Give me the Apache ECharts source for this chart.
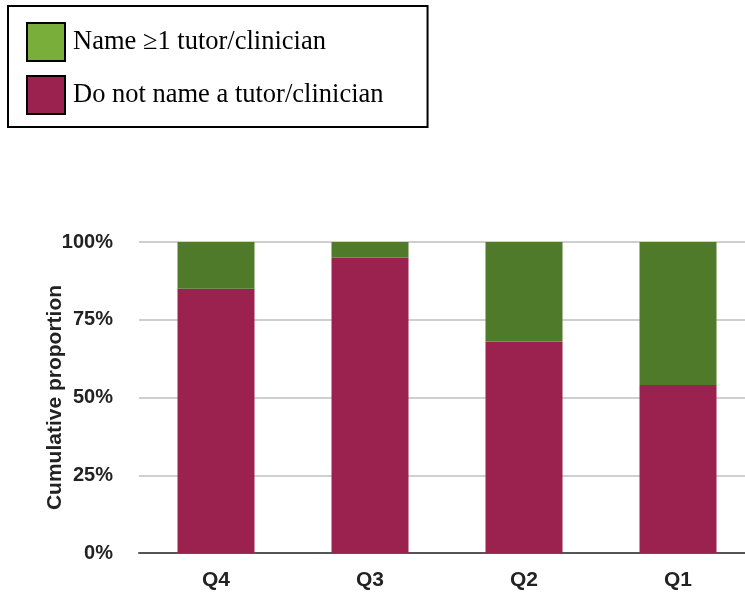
<!DOCTYPE html>
<html>
<head>
<meta charset="utf-8">
<script src="https://cdn.jsdelivr.net/npm/echarts@6/dist/echarts.min.js"></script>
<style>html,body{margin:0;padding:0;background:#fff;}#c{width:745px;height:592px;}</style>
</head>
<body>
<div id="c"></div>
<script>
const categories = ['Q4', 'Q3', 'Q2', 'Q1'];
const doNotName = [85, 95, 68, 54];
const nameAtLeastOne = [15, 5, 32, 46];
const yTicks = [0, 25, 50, 75, 100];
const seriesNames = ['Name \u22651 tutor/clinician', 'Do not name a tutor/clinician'];

const chart = echarts.init(document.getElementById('c'));
chart.setOption({
  animation: false,
  backgroundColor: '#fff',
  legend: {
    left: 8, top: 6,
    orient: 'vertical',
    icon: 'rect',
    padding: [16, 44, 12, 18],
    itemGap: 13,
    itemWidth: 38, itemHeight: 38,
    borderColor: '#000', borderWidth: 2,
    selectedMode: false,
    textStyle: { fontFamily: 'Liberation Serif', fontSize: 26.5, color: '#000', padding: [0, 0, 0, 3] },
    data: [
      { name: seriesNames[0], itemStyle: { color: '#7aae3b', borderColor: '#000', borderWidth: 2 } },
      { name: seriesNames[1], itemStyle: { color: '#9b224e', borderColor: '#000', borderWidth: 2 } }
    ]
  },
  grid: { left: 139, width: 616, top: 242, bottom: 39, containLabel: false, outerBoundsMode: 'none' },
  xAxis: {
    type: 'category',
    data: categories,
    axisLine: { lineStyle: { color: '#555', width: 2 } },
    axisTick: { show: false },
    axisLabel: { fontFamily: 'Liberation Sans', fontWeight: 'bold', fontSize: 21, color: '#222', margin: 17 }
  },
  yAxis: {
    type: 'value',
    min: yTicks[0], max: yTicks[yTicks.length - 1], interval: 25,
    name: 'Cumulative proportion',
    nameLocation: 'middle',
    nameGap: 73,
    nameMoveOverlap: false,
    nameTextStyle: { fontFamily: 'Liberation Sans', fontWeight: 'bold', fontSize: 21, color: '#222' },
    axisLine: { show: false },
    axisTick: { show: false },
    splitLine: { lineStyle: { color: '#cfcfcf', width: 2 } },
    axisLabel: { formatter: '{value}%', fontFamily: 'Liberation Sans', fontWeight: 'bold', fontSize: 20, color: '#222', margin: 26 }
  },
  series: [
    { name: seriesNames[1], type: 'bar', stack: 'a', data: doNotName, barWidth: '50%', itemStyle: { color: '#9b224e' } },
    { name: seriesNames[0], type: 'bar', stack: 'a', data: nameAtLeastOne, barWidth: '50%', itemStyle: { color: '#4e7a2a' } }
  ]
});
</script>
</body>
</html>
